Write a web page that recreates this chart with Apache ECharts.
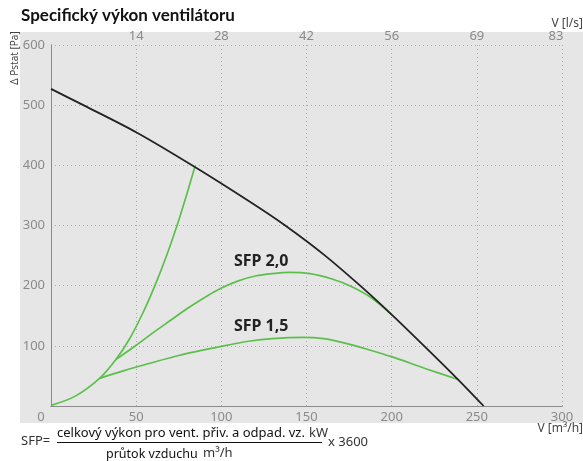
<!DOCTYPE html>
<html>
<head>
<meta charset="utf-8">
<script src="https://cdn.jsdelivr.net/npm/echarts@6/dist/echarts.min.js"></script>
<style>
  html, body { margin: 0; padding: 0; background: #fff; }
  #main { width: 583px; height: 461px; }
</style>
</head>
<body>
<div id="main"></div>
<script>
// ventilátor – pracovní křivka a SFP křivky, [m3/h, Pa]
const fanCurve = [[0, 527], [19, 500], [50, 455], [84, 398], [117, 339], [137.5, 300], [160, 252], [181.5, 200], [200, 152], [219, 100], [239, 44], [254, 0]]
const systemCurve = [[0, 1], [14, 16], [28.5, 46], [38, 77], [46, 111], [54, 155], [61, 200], [68, 251], [74, 300], [79.5, 350], [84.5, 398]]
const sfp20 = [[38, 77], [50, 101], [60, 122], [70, 142], [80, 162], [90, 180], [100, 196], [110, 208], [120, 216], [130, 220], [140, 222], [152, 220], [165, 211], [176, 199], [188, 180], [200, 152]]
const sfp15 = [[28.5, 46], [42, 58], [58, 71], [75, 84], [100, 99], [117, 108], [130, 112], [148, 114], [160, 112], [172, 105], [186, 94], [200, 82], [220, 62], [239, 44]]
const sfpNames = ['SFP 2,0', 'SFP 1,5']
const flowTicks = [0, 50, 100, 150, 200, 250, 300]
const lpsTicks = ['', '14', '28', '42', '56', '69', '83']

const font = 'Noto Sans'
const green = '#5cbf4c'
const gray = '#8a8a8a'

const chartBox = echarts.init(document.getElementById('main'))
const option = {
  animation: false,
  textStyle: { fontFamily: font },
  title: {
    text: 'Specifický výkon ventilátoru',
    left: 21,
    top: 7,
    padding: 0,
    textStyle: { fontFamily: 'Lato', fontWeight: 'bold', fontSize: 17, color: '#111' }
  },
  grid: { left: 51, right: 21, top: 45, bottom: 55, outerBoundsMode: 'none' },
  graphic: [
    { type: 'rect', z: -10, silent: true, shape: { x: 20, y: 32, width: 563, height: 391 }, style: { fill: '#e6e6e6' } },
    // názvy os
    { type: 'text', x: 15, y: 58, rotation: Math.PI / 2, style: { text: 'Δ Pstat [Pa]', fontSize: 10, fontFamily: font, fill: '#444', align: 'center', verticalAlign: 'middle' } },
    { type: 'text', x: 583, y: 24, style: { text: 'V [l/s]', fontSize: 12, fontFamily: font, fill: '#444', align: 'right', verticalAlign: 'middle' } },
    { type: 'text', x: 583, y: 429, style: { text: 'V [m³/h]', fontSize: 12, fontFamily: font, fill: '#444', align: 'right', verticalAlign: 'middle' } },
    // vzorec SFP
    { type: 'text', x: 21, y: 441, style: { text: 'SFP=', fontSize: 13, fontFamily: font, fill: '#333', verticalAlign: 'middle' } },
    { type: 'text', x: 57, y: 433, style: { text: 'celkový výkon pro vent. přiv. a odpad. vz.', fontSize: 13, fontFamily: font, fill: '#111', verticalAlign: 'middle' } },
    { type: 'text', x: 309, y: 433, style: { text: 'kW', fontSize: 13, fontFamily: font, fill: '#333', verticalAlign: 'middle' } },
    { type: 'line', shape: { x1: 57, y1: 442.5, x2: 322, y2: 442.5 }, style: { stroke: '#111', lineWidth: 1 } },
    { type: 'text', x: 328, y: 442, style: { text: 'x 3600', fontSize: 13, fontFamily: font, fill: '#333', verticalAlign: 'middle' } },
    { type: 'text', x: 106, y: 454, style: { text: 'průtok vzduchu', fontSize: 12.5, fontFamily: font, fill: '#111', verticalAlign: 'middle' } },
    { type: 'text', x: 203, y: 453, style: { text: 'm³/h', fontSize: 13, fontFamily: font, fill: '#333', verticalAlign: 'middle' } }
  ],
  xAxis: [
    {
      type: 'value',
      position: 'bottom',
      min: flowTicks[0],
      max: flowTicks[flowTicks.length - 1],
      interval: 50,
      axisLine: { show: true, lineStyle: { color: gray, width: 1 } },
      axisTick: { show: false },
      axisLabel: {
        color: gray,
        fontSize: 13,
        margin: 5,
        formatter: v => (v === 0 ? '{z|0}' : v),
        rich: { z: { padding: [0, 20, 0, 0], fontSize: 13, color: gray } }
      },
      splitLine: { show: true, lineStyle: { type: [1, 3], color: '#aaaaaa' } }
    },
    {
      type: 'value',
      position: 'top',
      min: flowTicks[0],
      max: flowTicks[flowTicks.length - 1],
      interval: 50,
      axisLine: { show: true, lineStyle: { color: gray, width: 1 } },
      axisTick: { show: false },
      axisLabel: {
        color: gray,
        fontSize: 13,
        margin: 2,
        formatter: v => (v === 300 ? '{r|' + lpsTicks[6] + '}' : lpsTicks[flowTicks.indexOf(v)]),
        rich: { r: { padding: [0, 12, 0, 0], fontSize: 13, color: gray } }
      },
      splitLine: { show: false }
    }
  ],
  yAxis: [
    {
      type: 'value',
      min: 0,
      max: 600,
      interval: 100,
      axisLine: { show: true, lineStyle: { color: gray, width: 1 } },
      axisTick: { show: false },
      axisLabel: { color: gray, fontSize: 13, margin: 6, formatter: v => (v === 0 ? '' : v) },
      splitLine: { show: true, lineStyle: { type: [1, 3], color: '#aaaaaa' } }
    },
    {
      type: 'value',
      position: 'right',
      min: 0,
      max: 600,
      interval: 100,
      axisLine: { show: true, lineStyle: { color: gray, width: 1 } },
      axisTick: { show: false },
      axisLabel: { show: false },
      splitLine: { show: false }
    }
  ],
  series: [
    {
      type: 'line',
      data: systemCurve,
      smooth: 0.3,
      showSymbol: false,
      lineStyle: { color: green, width: 1.7 }
    },
    {
      type: 'line',
      data: sfp20,
      smooth: 0.3,
      showSymbol: false,
      lineStyle: { color: green, width: 1.7 },
      markPoint: {
        symbolSize: 0,
        label: { show: true, formatter: sfpNames[0], fontWeight: 'bold', fontSize: 16, color: '#222', fontFamily: font },
        data: [{ coord: [123.4, 241] }]
      }
    },
    {
      type: 'line',
      data: sfp15,
      smooth: 0.3,
      showSymbol: false,
      lineStyle: { color: green, width: 1.7 },
      markPoint: {
        symbolSize: 0,
        label: { show: true, formatter: sfpNames[1], fontWeight: 'bold', fontSize: 16, color: '#222', fontFamily: font },
        data: [{ coord: [123.4, 133] }]
      }
    },
    {
      type: 'line',
      data: fanCurve,
      smooth: 0.3,
      showSymbol: false,
      z: 3,
      lineStyle: { color: '#222', width: 1.8 }
    }
  ]
}
chartBox.setOption(option)
window.addEventListener('resize', function () {
  chartBox.resize()
})
</script>
</body>
</html>
